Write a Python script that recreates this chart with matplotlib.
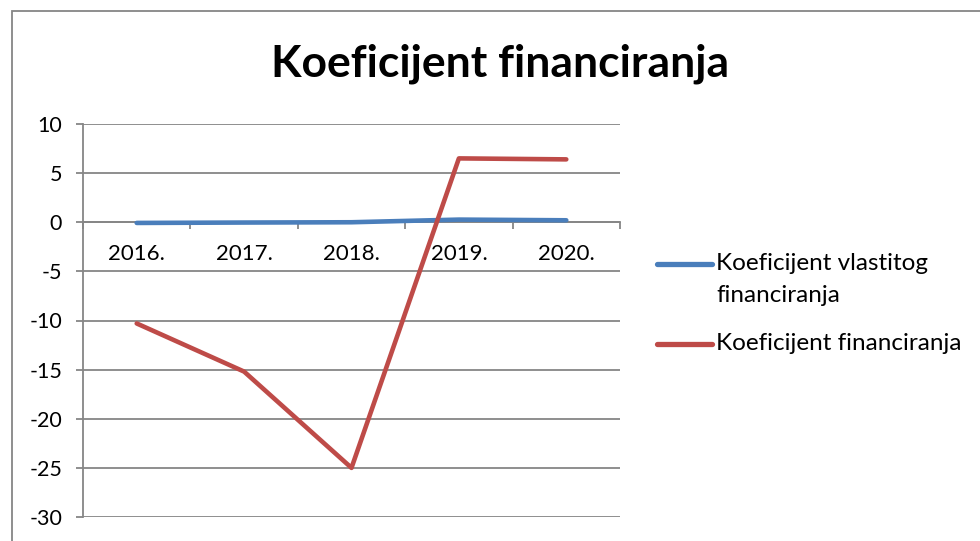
import matplotlib
matplotlib.use("Agg")
import matplotlib.pyplot as plt
from matplotlib.patches import Rectangle
from matplotlib.lines import Line2D

# Data
years = ['2016.', '2017.', '2018.', '2019.', '2020.']
vlastito = [-0.07, -0.03, 0.0, 0.27, 0.2]
financiranje = [-10.3, -15.2, -25.0, 6.5, 6.4]
y_ticks = [10, 5, 0, -5, -10, -15, -20, -25, -30]
series_names = ['Koeficijent vlastitog\nfinanciranja', 'Koeficijent financiranja']
colors = ['#4A7EBB', '#BE4B48']

plt.rcParams['font.family'] = ['Lato', 'DejaVu Sans']
GRAY = '#868686'

fig = plt.figure(figsize=(9.8, 5.41), dpi=100)
ax = fig.add_axes([83 / 980, 24 / 541, 537 / 980, 393 / 541])

x = list(range(len(years)))
for vals, col in zip([vlastito, financiranje], colors):
    ax.plot(x, vals, color=col, lw=3.3, solid_capstyle='round', zorder=3)

ax.set_xlim(-0.5, len(years) - 0.5)
ax.set_ylim(-30, 10)
ax.set_yticks(y_ticks)
ax.set_yticklabels([str(v) for v in y_ticks])
ax.yaxis.grid(True, color=GRAY, lw=1.3)
ax.set_axisbelow(True)

for s in ['top', 'right']:
    ax.spines[s].set_visible(False)
ax.spines['left'].set_color(GRAY)
ax.spines['left'].set_linewidth(1.3)
ax.spines['bottom'].set_position(('data', 0))
ax.spines['bottom'].set_color(GRAY)
ax.spines['bottom'].set_linewidth(1.3)

# category axis crosses at zero: boundary ticks, labels between them
ax.set_xticks([i - 0.5 for i in range(len(years) + 1)])
ax.set_xticklabels([''] * (len(years) + 1))
ax.set_xticks(x, minor=True)
ax.set_xticklabels(years, minor=True)
ax.tick_params(axis='x', which='major', length=5, color=GRAY, width=1.3)
ax.tick_params(axis='x', which='minor', length=0, pad=16, labelsize=16)
ax.tick_params(axis='y', length=5, color=GRAY, width=1.3, pad=10, labelsize=15.5)

fig.text(0.51, 0.883, 'Koeficijent financiranja', ha='center', va='center',
         fontsize=32, fontweight='bold')

# legend, Excel style: handle aligned with the first text line
leg_y = [264, 344]
for name, col, yy in zip(series_names, colors, leg_y):
    fy = 1 - yy / 541
    fig.add_artist(Line2D([657 / 980, 712 / 980], [fy, fy], color=col, lw=3.8,
                          solid_capstyle='round', transform=fig.transFigure))
    for k, line in enumerate(name.split('\n')):
        fig.text(716 / 980, 1 - (yy + 32 * k) / 541, line, ha='left', va='center',
                 fontsize=17.5)

fig.patches.append(Rectangle((12 / 980, -0.5), 1.0, 1.5 - 11 / 541, fill=False,
                             edgecolor=GRAY, lw=1.3, transform=fig.transFigure))

fig.savefig('out.png', dpi=100)
